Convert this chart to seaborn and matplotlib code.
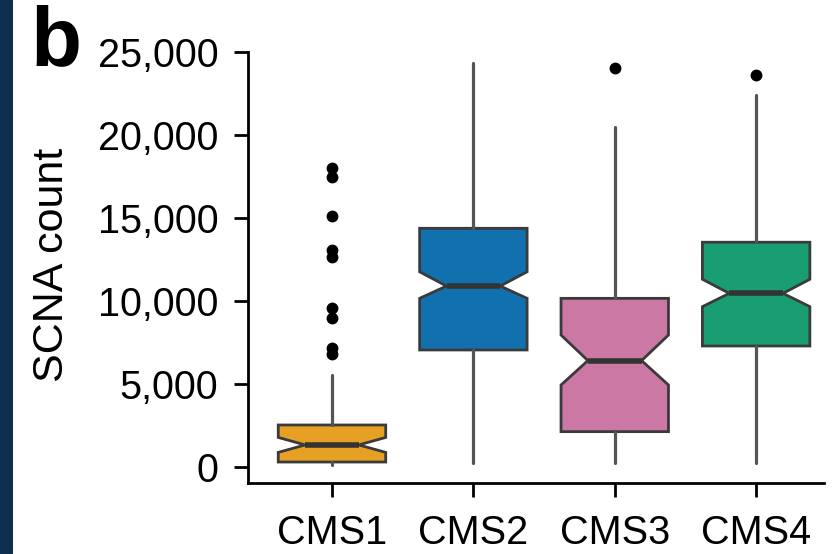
import matplotlib
matplotlib.use("Agg")
import matplotlib.pyplot as plt
import seaborn as sns
from matplotlib.patches import Rectangle

# ---- data ----
groups = ["CMS1", "CMS2", "CMS3", "CMS4"]
colors = ["#E6A024", "#1171AE", "#CB78A5", "#199E74"]
whislo = [150, 220, 220, 220]
q1 = [300, 7050, 2130, 7290]
cilo = [880, 10160, 4940, 9660]
med = [1330, 10900, 6410, 10460]
cihi = [1780, 11760, 7950, 11310]
q3 = [2530, 14380, 10160, 13540]
whishi = [5540, 24320, 20460, 22410]
fliers = [
    [18010, 17470, 15120, 13070, 12650, 9580, 8980, 7170, 6810],
    [],
    [24020],
    [23610],
]
yticks = [0, 5000, 10000, 15000, 20000, 25000]
ytick_labels = ["0", "5,000", "10,000", "15,000", "20,000", "25,000"]

sns.set_style("ticks")
plt.rcParams["font.family"] = ["Liberation Sans", "DejaVu Sans"]
plt.rcParams["text.color"] = "black"
plt.rcParams["axes.labelcolor"] = "black"
plt.rcParams["xtick.color"] = "black"
plt.rcParams["ytick.color"] = "black"

fig = plt.figure(figsize=(8.39, 5.54), dpi=100)
ax = fig.add_axes([248 / 839, 1 - 483 / 554, (824 - 248) / 839, (483 - 52) / 554])

stats = []
for i, g in enumerate(groups):
    stats.append(dict(label=g, whislo=whislo[i], q1=q1[i], cilo=cilo[i], med=med[i],
                      cihi=cihi[i], q3=q3[i], whishi=whishi[i], fliers=fliers[i]))

bp = ax.bxp(stats, positions=range(len(groups)), widths=0.76, shownotches=True,
            patch_artist=True, showcaps=False,
            boxprops=dict(edgecolor="#3a3a3a", linewidth=2.0),
            whiskerprops=dict(color="#555555", linewidth=2.3),
            medianprops=dict(color="#333333", linewidth=4),
            flierprops=dict(marker="o", markerfacecolor="black", markeredgecolor="black",
                            markersize=7.5))
for patch, c in zip(bp["boxes"], colors):
    patch.set_facecolor(c)

ax.set_xlim(-0.594, 3.48)
ax.set_ylim(-964, 25000)
ax.set_yticks(yticks)
ax.set_yticklabels(ytick_labels)
ax.set_xticks(range(len(groups)))
ax.set_xticklabels(groups)
ax.tick_params(axis="both", labelsize=28.5, length=10, width=2, color="black",
               labelcolor="black")
ax.tick_params(axis="y", pad=11.5)
ax.tick_params(axis="x", pad=12)
for s in ["top", "right"]:
    ax.spines[s].set_visible(False)
for s in ["left", "bottom"]:
    ax.spines[s].set_linewidth(2)
    ax.spines[s].set_color("black")
ax.set_ylabel("SCNA count", fontsize=31, color="black")
ax.yaxis.set_label_coords(-0.305, 0.505)
ax.set_xlabel("")

fig.add_artist(Rectangle((0, 0), 13 / 839, 1, transform=fig.transFigure,
                         facecolor="#0E2F50", edgecolor="none"))
fig.text(30 / 839, 1 - 65 / 554, "b", fontsize=60, fontweight="bold",
         color="black", ha="left", va="baseline")

fig.savefig("out.png", dpi=100)
